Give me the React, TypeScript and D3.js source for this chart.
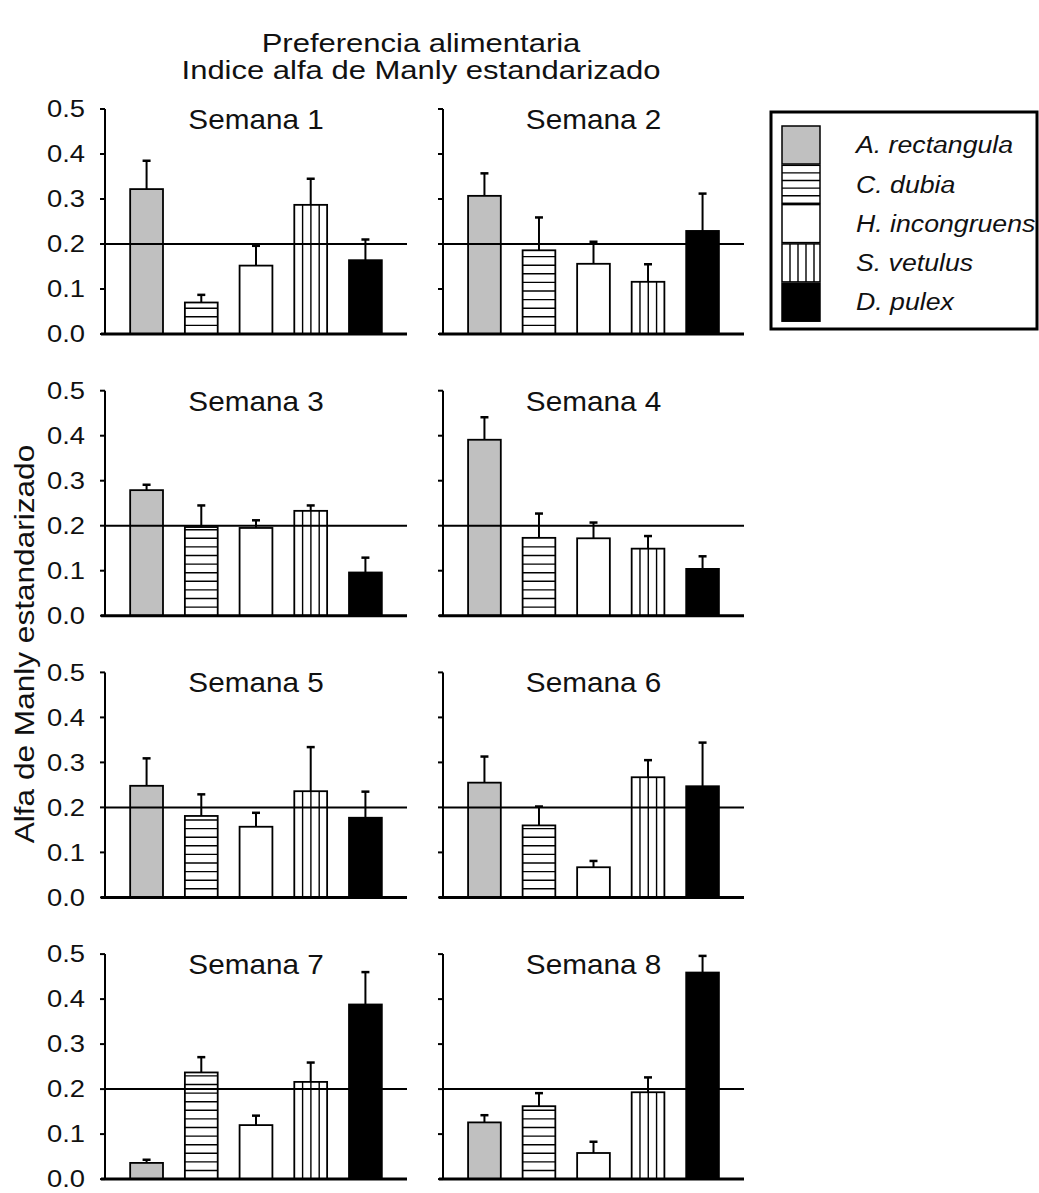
import React from "react";
import * as d3 from "d3";

const species = ["A. rectangula", "C. dubia", "H. incongruens", "S. vetulus", "D. pulex"];
const weeks = ["Semana 1", "Semana 2", "Semana 3", "Semana 4", "Semana 5", "Semana 6", "Semana 7", "Semana 8"];
const yTicks = [0, 0.1, 0.2, 0.3, 0.4, 0.5];
const tickLabels = ["0.0", "0.1", "0.2", "0.3", "0.4", "0.5"];
const referenceValue = 0.2;

// mean standardized Manly alpha, per week, species order as above
const means = [
  [0.322, 0.070, 0.152, 0.287, 0.164],
  [0.307, 0.186, 0.156, 0.116, 0.229],
  [0.279, 0.197, 0.195, 0.233, 0.096],
  [0.391, 0.173, 0.172, 0.149, 0.104],
  [0.248, 0.181, 0.157, 0.236, 0.177],
  [0.255, 0.160, 0.067, 0.267, 0.247],
  [0.036, 0.237, 0.120, 0.216, 0.388],
  [0.126, 0.162, 0.058, 0.193, 0.459],
];
// standard error (upper bar only)
const errors = [
  [0.063, 0.017, 0.044, 0.058, 0.046],
  [0.050, 0.073, 0.049, 0.039, 0.083],
  [0.012, 0.048, 0.017, 0.012, 0.033],
  [0.050, 0.054, 0.035, 0.028, 0.028],
  [0.061, 0.048, 0.031, 0.098, 0.058],
  [0.058, 0.042, 0.014, 0.038, 0.097],
  [0.007, 0.034, 0.021, 0.043, 0.072],
  [0.016, 0.029, 0.025, 0.033, 0.037],
];

const fills = ["#c0c0c0", "h", "#ffffff", "v", "#000000"];
const FONT = "'Liberation Sans', Arial, sans-serif";

const colRanges = [[105, 407], [443, 744]];
const rowTop0 = 109;
const rowStep = 281.7;
const plotH = 225;

function SText({ x, y, sx = 1, rot = 0, children, ...rest }: any) {
  return (
    <text
      transform={`translate(${x},${y})${rot ? ` rotate(${rot})` : ""} scale(${sx},1)`}
      fontFamily={FONT}
      fill="#111"
      {...rest}
    >
      {children}
    </text>
  );
}

function PatternLines({ kind, x0, x1, yTop, yBot, hStep, vStep, anchorY }: any) {
  const lines: any[] = [];
  if (kind === "h") {
    for (let yy = anchorY - hStep; yy > yTop + 1.5; yy -= hStep) {
      if (yy < yBot) lines.push(<line key={"h" + yy} x1={x0} x2={x1} y1={yy} y2={yy} stroke="#000" strokeWidth={1.4} />);
    }
  } else if (kind === "v") {
    for (let xx = x0 + vStep; xx < x1 - 3; xx += vStep) {
      lines.push(<line key={"v" + xx} x1={xx} x2={xx} y1={yTop} y2={yBot} stroke="#000" strokeWidth={1.4} />);
    }
  }
  return <g>{lines}</g>;
}

function Panel({ idx }: { idx: number }) {
  const col = idx % 2;
  const row = Math.floor(idx / 2);
  const top = rowTop0 + row * rowStep;
  const [xa, xb] = colRanges[col];
  const y = d3.scaleLinear().domain([0, 0.5]).range([top + plotH, top]);
  const x = d3
    .scaleBand<string>()
    .domain(species)
    .range([xa, xb])
    .paddingInner(0.4)
    .paddingOuter(0.46);
  const bw = x.bandwidth();
  const y0 = y(0);
  return (
    <g>
      {/* bars */}
      {species.map((s, i) => {
        const v = means[idx][i];
        const bx = x(s)!;
        const by = y(v);
        const f = fills[i];
        const patterned = f === "h" || f === "v";
        return (
          <g key={s}>
            <rect x={bx} y={by} width={bw} height={y0 - by} fill={patterned ? "#fff" : f} stroke="#000" strokeWidth={1.8} />
            {patterned && (
              <PatternLines kind={f} x0={bx} x1={bx + bw} yTop={by} yBot={y0} hStep={8.6} vStep={8.3} anchorY={y0} />
            )}
          </g>
        );
      })}
      {/* reference line */}
      <line x1={xa} x2={xb} y1={y(referenceValue)} y2={y(referenceValue)} stroke="#000" strokeWidth={2} />
      {/* error bars */}
      {species.map((s, i) => {
        const v = means[idx][i];
        const e = errors[idx][i];
        const cx = x(s)! + bw / 2;
        return (
          <g key={"e" + s}>
            <line x1={cx} x2={cx} y1={y(v)} y2={y(v + e)} stroke="#000" strokeWidth={2} />
            <line x1={cx - 4} x2={cx + 4} y1={y(v + e)} y2={y(v + e)} stroke="#000" strokeWidth={2.5} />
          </g>
        );
      })}
      {/* y axis */}
      <line x1={xa} x2={xa} y1={y0} y2={y(0.5)} stroke="#000" strokeWidth={2} />
      {yTicks.map((t) => (
        <line key={"t" + t} x1={xa - 5} x2={xa} y1={y(t)} y2={y(t)} stroke="#000" strokeWidth={2} />
      ))}
      {col === 0 &&
        yTicks.map((t, k) => (
          <SText key={"l" + t} x={xa - 20} y={y(t)} sx={1.19} fontSize={23} textAnchor="end" dy="0.36em">
            {tickLabels[k]}
          </SText>
        ))}
      {/* x axis baseline */}
      <line x1={xa - 4} x2={xb} y1={y0} y2={y0} stroke="#000" strokeWidth={3} />
      {/* panel title */}
      <SText x={(xa + xb) / 2} y={top + 20} sx={1.1} fontSize={27} textAnchor="middle">
        {weeks[idx]}
      </SText>
    </g>
  );
}

function Legend() {
  const bx = 771, by = 112, bw = 266, bh = 217;
  const sx0 = 782, sw = 38, sy0 = 126, sh = 38, step = 39.3;
  return (
    <g>
      <rect x={bx} y={by} width={bw} height={bh} fill="#fff" stroke="#000" strokeWidth={3} />
      {species.map((s, i) => {
        const yy = sy0 + i * step;
        const f = fills[i];
        const patterned = f === "h" || f === "v";
        return (
          <g key={s}>
            <rect x={sx0} y={yy} width={sw} height={sh} fill={patterned ? "#fff" : f} stroke="#000" strokeWidth={1.5} />
            {patterned && (
              <PatternLines kind={f} x0={sx0} x1={sx0 + sw} yTop={yy} yBot={yy + sh} hStep={7.6} vStep={8} anchorY={yy + sh} />
            )}
            <SText x={856} y={yy + sh / 2} sx={1.16} fontSize={23} fontStyle="italic" dy="0.36em">
              {s}
            </SText>
          </g>
        );
      })}
    </g>
  );
}

export default function App() {
  return (
    <svg
      width={1039}
      height={1193}
      style={{ position: "absolute", left: 0, top: 0, background: "#fff" }}
    >
      <rect x={0} y={0} width={1039} height={1193} fill="#fff" />
      <SText x={421} y={52} sx={1.17} fontSize={26.5} textAnchor="middle">
        Preferencia alimentaria
      </SText>
      <SText x={421} y={79} sx={1.17} fontSize={26.5} textAnchor="middle">
        Indice alfa de Manly estandarizado
      </SText>
      <SText x={34} y={644} rot={-90} sx={1.17} fontSize={27} textAnchor="middle">
        Alfa de Manly estandarizado
      </SText>
      {weeks.map((w, i) => (
        <Panel key={w} idx={i} />
      ))}
      <Legend />
    </svg>
  );
}
